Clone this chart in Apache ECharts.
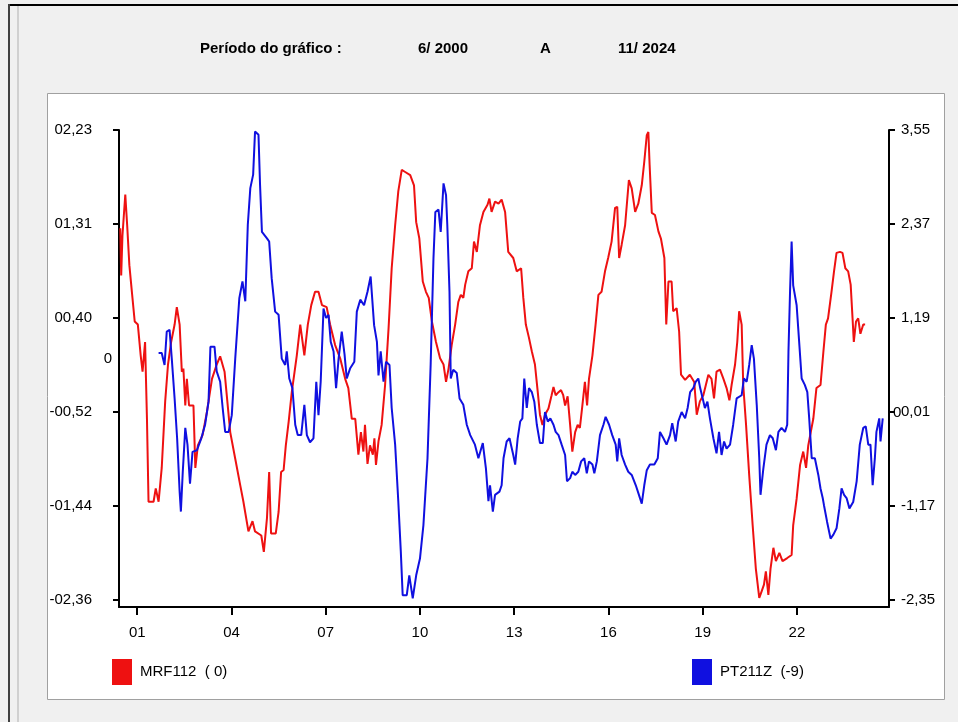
<!DOCTYPE html>
<html>
<head>
<meta charset="utf-8">
<script src="https://cdn.jsdelivr.net/npm/echarts@6/dist/echarts.min.js"></script>
<style>
html,body{margin:0;padding:0;background:#f0f0f0;}
#chart{width:958px;height:722px;}
</style>
</head>
<body>
<div id="chart"></div>
<script>
// ---- data ----
const redName = 'MRF112  ( 0)';
const blueName = 'PT211Z  (-9)';

const redYears = [2000.46,2000.49,2000.53,2000.62,2000.68,2000.75,2000.83,2000.92,2001.02,2001.11,2001.17,2001.25,2001.31,2001.36,2001.52,2001.59,2001.68,2001.78,2001.89,2001.98,2002.08,2002.19,2002.26,2002.35,2002.42,2002.47,2002.53,2002.58,2002.65,2002.79,2002.85,2002.93,2003.08,2003.22,2003.38,2003.53,2003.64,2003.78,2003.96,2004.12,2004.28,2004.38,2004.54,2004.67,2004.75,2004.95,2005.03,2005.13,2005.20,2005.26,2005.41,2005.50,2005.58,2005.66,2005.73,2005.82,2005.92,2006.08,2006.19,2006.32,2006.43,2006.54,2006.66,2006.77,2006.88,2007.03,2007.14,2007.30,2007.46,2007.62,2007.72,2007.83,2007.94,2008.04,2008.12,2008.20,2008.25,2008.33,2008.41,2008.50,2008.55,2008.60,2008.68,2008.78,2008.89,2009.00,2009.10,2009.21,2009.31,2009.42,2009.53,2009.69,2009.81,2009.88,2009.98,2010.09,2010.19,2010.28,2010.38,2010.51,2010.64,2010.75,2010.83,2010.91,2011.01,2011.12,2011.22,2011.30,2011.38,2011.44,2011.54,2011.65,2011.72,2011.81,2011.91,2012.02,2012.15,2012.21,2012.28,2012.39,2012.50,2012.60,2012.71,2012.81,2012.97,2013.08,2013.22,2013.29,2013.37,2013.47,2013.56,2013.66,2013.75,2013.82,2013.90,2013.98,2014.09,2014.19,2014.25,2014.32,2014.41,2014.49,2014.56,2014.62,2014.70,2014.78,2014.85,2014.94,2015.02,2015.09,2015.17,2015.25,2015.32,2015.38,2015.49,2015.59,2015.68,2015.78,2015.89,2015.99,2016.10,2016.21,2016.28,2016.34,2016.42,2016.53,2016.65,2016.74,2016.85,2016.95,2017.06,2017.14,2017.22,2017.27,2017.31,2017.38,2017.48,2017.59,2017.67,2017.78,2017.84,2017.91,2018.01,2018.06,2018.17,2018.25,2018.31,2018.44,2018.59,2018.73,2018.81,2018.91,2019.02,2019.10,2019.18,2019.28,2019.36,2019.44,2019.55,2019.66,2019.76,2019.85,2019.92,2020.03,2020.10,2020.16,2020.24,2020.29,2020.38,2020.48,2020.59,2020.69,2020.80,2020.87,2020.95,2021.01,2021.09,2021.16,2021.25,2021.33,2021.44,2021.54,2021.69,2021.83,2021.88,2021.99,2022.10,2022.20,2022.29,2022.36,2022.52,2022.62,2022.75,2022.84,2022.92,2022.99,2023.10,2023.18,2023.26,2023.37,2023.45,2023.54,2023.63,2023.71,2023.77,2023.81,2023.88,2023.95,2024.02,2024.11,2024.17];
const redValues = [1.27,0.81,1.20,1.60,1.30,0.91,0.65,0.36,0.33,0.03,-0.13,0.16,-0.59,-1.40,-1.40,-1.27,-1.40,-1.07,-0.42,-0.06,0.16,0.33,0.50,0.33,-0.13,-0.10,-0.46,-0.20,-0.46,-0.46,-1.07,-0.85,-0.75,-0.52,-0.20,-0.06,0.02,-0.13,-0.72,-0.98,-1.24,-1.40,-1.69,-1.59,-1.69,-1.73,-1.89,-1.56,-1.11,-1.71,-1.71,-1.50,-1.11,-1.09,-0.85,-0.62,-0.33,0.03,0.33,0.03,0.33,0.52,0.65,0.65,0.52,0.50,0.33,0.13,0.00,-0.20,-0.29,-0.59,-0.59,-0.94,-0.72,-0.91,-0.65,-1.03,-0.85,-0.94,-0.78,-1.04,-0.81,-0.65,-0.26,0.29,0.88,1.30,1.63,1.84,1.82,1.79,1.69,1.33,1.17,0.75,0.65,0.59,0.36,0.16,0.00,-0.06,-0.23,-0.10,0.13,0.33,0.55,0.62,0.59,0.72,0.85,0.88,1.14,1.04,1.30,1.43,1.50,1.56,1.43,1.53,1.51,1.55,1.43,1.04,0.98,0.85,0.88,0.59,0.33,0.20,0.07,-0.06,-0.33,-0.55,-0.65,-0.55,-0.49,-0.36,-0.28,-0.36,-0.33,-0.31,-0.36,-0.46,-0.37,-0.65,-0.91,-0.72,-0.65,-0.68,-0.46,-0.23,-0.46,-0.20,0.03,0.33,0.62,0.65,0.85,0.98,1.14,1.47,1.48,0.98,1.11,1.30,1.74,1.66,1.43,1.51,1.69,1.92,2.18,2.21,1.89,1.42,1.40,1.24,1.17,0.98,0.33,0.75,0.75,0.46,0.49,0.26,-0.16,-0.21,-0.16,-0.23,-0.55,-0.42,-0.36,-0.26,-0.16,-0.20,-0.39,-0.13,-0.11,-0.20,-0.29,-0.41,-0.26,-0.06,0.16,0.46,0.33,-0.26,-0.65,-1.14,-1.63,-2.05,-2.34,-2.28,-2.21,-2.08,-2.31,-2.05,-1.85,-1.98,-1.90,-1.98,-1.95,-1.92,-1.63,-1.37,-1.04,-0.91,-1.07,-0.85,-0.59,-0.29,-0.26,0.06,0.33,0.39,0.65,0.85,1.03,1.04,1.03,0.88,0.85,0.72,0.39,0.16,0.36,0.39,0.24,0.33,0.33];

const blueYears = [2001.68,2001.78,2001.87,2001.94,2002.03,2002.10,2002.19,2002.27,2002.35,2002.39,2002.45,2002.53,2002.60,2002.68,2002.76,2002.90,2003.04,2003.16,2003.27,2003.33,2003.46,2003.53,2003.64,2003.72,2003.80,2003.91,2004.01,2004.12,2004.25,2004.35,2004.44,2004.52,2004.60,2004.69,2004.75,2004.86,2004.91,2004.97,2005.13,2005.20,2005.28,2005.39,2005.50,2005.60,2005.71,2005.76,2005.84,2005.94,2006.03,2006.11,2006.22,2006.32,2006.40,2006.50,2006.61,2006.70,2006.77,2006.84,2006.93,2007.01,2007.09,2007.16,2007.25,2007.33,2007.41,2007.51,2007.60,2007.67,2007.78,2007.91,2007.99,2008.10,2008.22,2008.33,2008.43,2008.54,2008.63,2008.68,2008.75,2008.84,2008.92,2009.03,2009.10,2009.21,2009.31,2009.39,2009.45,2009.58,2009.66,2009.77,2009.88,2010.00,2010.11,2010.24,2010.34,2010.43,2010.49,2010.59,2010.66,2010.75,2010.83,2010.87,2010.94,2010.98,2011.06,2011.17,2011.26,2011.38,2011.49,2011.60,2011.75,2011.86,2012.00,2012.10,2012.18,2012.23,2012.32,2012.39,2012.53,2012.60,2012.66,2012.76,2012.85,2012.97,2013.03,2013.11,2013.19,2013.26,2013.32,2013.40,2013.47,2013.56,2013.64,2013.72,2013.82,2013.91,2013.98,2014.07,2014.15,2014.25,2014.32,2014.41,2014.51,2014.62,2014.68,2014.78,2014.85,2014.94,2015.04,2015.13,2015.23,2015.31,2015.38,2015.49,2015.55,2015.63,2015.73,2015.84,2015.91,2016.02,2016.12,2016.23,2016.28,2016.34,2016.42,2016.53,2016.63,2016.74,2016.87,2016.97,2017.06,2017.14,2017.22,2017.32,2017.46,2017.57,2017.64,2017.75,2017.85,2017.96,2018.03,2018.14,2018.22,2018.33,2018.44,2018.52,2018.60,2018.70,2018.78,2018.86,2018.92,2019.00,2019.07,2019.15,2019.23,2019.34,2019.44,2019.52,2019.60,2019.68,2019.76,2019.87,2019.97,2020.08,2020.24,2020.31,2020.40,2020.48,2020.56,2020.63,2020.72,2020.80,2020.84,2020.93,2021.03,2021.14,2021.23,2021.33,2021.41,2021.51,2021.62,2021.69,2021.73,2021.78,2021.83,2021.88,2021.99,2022.07,2022.15,2022.25,2022.33,2022.39,2022.47,2022.57,2022.68,2022.75,2022.82,2022.86,2022.96,2023.07,2023.16,2023.26,2023.35,2023.42,2023.50,2023.58,2023.67,2023.79,2023.90,2024.00,2024.11,2024.19,2024.27,2024.34,2024.41,2024.48,2024.53,2024.62,2024.66,2024.73];
const blueValues = [0.75,0.75,0.60,1.02,1.04,0.68,0.18,-0.32,-0.99,-1.24,-0.74,-0.19,-0.40,-0.89,-0.49,-0.47,-0.32,-0.15,0.14,0.83,0.83,0.52,0.39,0.06,-0.24,-0.24,-0.03,0.68,1.44,1.65,1.40,2.36,2.82,2.99,3.53,3.49,2.86,2.27,2.19,2.15,1.69,1.27,1.23,0.68,0.60,0.77,0.43,0.31,-0.15,-0.28,-0.28,0.10,-0.28,-0.37,-0.32,0.39,-0.03,0.39,1.31,1.19,1.23,0.89,0.77,0.31,0.68,1.02,0.73,0.43,0.56,0.64,1.27,1.42,1.35,1.52,1.71,1.10,0.89,0.47,0.77,0.39,0.64,0.60,0.06,-0.40,-1.11,-1.74,-2.29,-2.29,-2.04,-2.33,-2.04,-1.83,-1.41,-0.57,0.60,1.94,2.52,2.55,2.27,2.88,2.73,2.36,1.52,0.43,0.54,0.50,0.18,0.10,-0.15,-0.28,-0.40,-0.57,-0.38,-0.70,-1.11,-0.91,-1.24,-1.03,-0.99,-0.91,-0.57,-0.36,-0.32,-0.53,-0.65,-0.32,-0.11,-0.07,0.43,0.06,0.31,0.26,0.14,-0.15,-0.38,-0.38,0.01,-0.11,-0.07,-0.15,-0.24,-0.28,-0.40,-0.53,-0.86,-0.82,-0.74,-0.78,-0.74,-0.61,-0.57,-0.76,-0.61,-0.65,-0.76,-0.61,-0.28,-0.15,-0.05,-0.15,-0.28,-0.40,-0.61,-0.32,-0.53,-0.65,-0.74,-0.78,-0.91,-1.03,-1.14,-0.91,-0.72,-0.65,-0.65,-0.57,-0.24,-0.32,-0.40,-0.28,-0.13,-0.36,-0.11,0.01,-0.07,0.06,0.26,0.31,0.39,0.43,0.31,0.18,0.06,0.14,-0.07,-0.32,-0.51,-0.24,-0.53,-0.36,-0.45,-0.40,-0.15,0.18,0.22,0.43,0.39,0.60,0.85,0.68,0.10,-0.57,-1.03,-0.70,-0.40,-0.28,-0.32,-0.47,-0.24,-0.19,-0.24,-0.15,0.77,1.52,2.15,1.60,1.35,0.89,0.43,0.35,0.26,-0.07,-0.57,-0.57,-0.78,-0.95,-1.07,-1.16,-1.37,-1.58,-1.53,-1.45,-1.20,-0.95,-1.03,-1.07,-1.20,-1.12,-0.86,-0.40,-0.19,-0.17,-0.40,-0.40,-0.91,-0.57,-0.24,-0.07,-0.36,-0.07];

const xTickValues = [2001,2004,2007,2010,2013,2016,2019,2022];
const xTickLabels = ['01','04','07','10','13','16','19','22'];
const leftTickValues = [-2.36,-1.442,-0.524,0.394,1.312,2.23];
const leftTickLabels = ['-02,36','-01,44','-00,52','00,40','01,31','02,23'];
const rightTickValues = [-2.35,-1.17,0.01,1.19,2.37,3.55];
const rightTickLabels = ['-2,35','-1,17','0,01','1,19','2,37','3,55'];
const titleParts = ['Período do gráfico :','6/ 2000','A','11/ 2024'];

// ---- chart ----
const FONT = "'Liberation Sans Narrow','Arial Narrow','Liberation Sans',sans-serif";
const chart = echarts.init(document.getElementById('chart'), null, {renderer:'canvas'});

const zip = (xs, ys) => xs.map((x, i) => [x, ys[i]]);
const labelFor = (vals, labs) => v => {
  for (let i = 0; i < vals.length; i++) if (Math.abs(vals[i] - v) < 1e-6) return labs[i];
  return '';
};

const leftMin = -2.428, leftMax = 2.23;
const rightMin = -2.438, rightMax = 3.55;

const option = {
  backgroundColor: '#f0f0f0',
  animation: false,
  graphic: [
    {type:'rect', z:-10, shape:{x:47.5, y:93.5, width:897, height:606}, style:{fill:'#ffffff', stroke:'#a0a0a0', lineWidth:1}},
    {type:'line', z:-10, shape:{x1:9, y1:5, x2:958, y2:5}, style:{stroke:'#000', lineWidth:2}},
    {type:'line', z:-10, shape:{x1:9, y1:4, x2:9, y2:722}, style:{stroke:'#404040', lineWidth:2}},
    {type:'line', z:-10, shape:{x1:18, y1:6, x2:18, y2:722}, style:{stroke:'#b0b0b0', lineWidth:1}},
    {type:'text', left:200, top:41, style:{text:titleParts[0], font:"bold 15px " + FONT, fill:'#000'}},
    {type:'text', left:418, top:41, style:{text:titleParts[1], font:"bold 15px " + FONT, fill:'#000'}},
    {type:'text', left:540, top:41, style:{text:titleParts[2], font:"bold 15px " + FONT, fill:'#000'}},
    {type:'text', left:618, top:41, style:{text:titleParts[3], font:"bold 15px " + FONT, fill:'#000'}}
  ],
  legend: [
    {data:[redName], left:112, top:659, padding:0, icon:'rect', itemWidth:20, itemHeight:26, selectedMode:false,
     textStyle:{fontFamily:FONT, fontSize:15, color:'#000', padding:[0,0,0,3]}},
    {data:[blueName], left:692, top:659, padding:0, icon:'rect', itemWidth:20, itemHeight:26, selectedMode:false,
     textStyle:{fontFamily:FONT, fontSize:15, color:'#000', padding:[0,0,0,3]}}
  ],
  grid: {left:119, right:69, top:130, bottom:115, containLabel:false},
  xAxis: {
    type:'value', min:2000.42, max:2024.93,
    axisLine:{show:true, onZero:false, lineStyle:{color:'#000', width:2}},
    axisTick:{show:true, length:8, customValues:xTickValues, lineStyle:{color:'#000', width:2}},
    axisLabel:{customValues:xTickValues, formatter:labelFor(xTickValues, xTickLabels), margin:18,
      fontFamily:FONT, fontSize:15, color:'#000'},
    splitLine:{show:false}
  },
  yAxis: [
    {type:'value', position:'left', min:leftMin, max:leftMax,
     axisLine:{show:true, onZero:false, lineStyle:{color:'#000', width:2}},
     axisTick:{show:true, length:6, customValues:leftTickValues, lineStyle:{color:'#000', width:2}},
     axisLabel:{customValues:leftTickValues, formatter:labelFor(leftTickValues, leftTickLabels), margin:27,
       fontFamily:FONT, fontSize:15, color:'#000'},
     splitLine:{show:false}},
    {type:'value', position:'right', min:rightMin, max:rightMax,
     axisLine:{show:true, onZero:false, lineStyle:{color:'#000', width:2}},
     axisTick:{show:true, length:6, customValues:rightTickValues, lineStyle:{color:'#000', width:2}},
     axisLabel:{customValues:rightTickValues, formatter:labelFor(rightTickValues, rightTickLabels), margin:12,
       fontFamily:FONT, fontSize:15, color:'#000'},
     splitLine:{show:false}},
    {type:'value', position:'left', min:leftMin, max:leftMax,
     axisLine:{show:false}, axisTick:{show:false}, splitLine:{show:false},
     axisLabel:{customValues:[0], formatter:() => '0', margin:7, fontFamily:FONT, fontSize:15, color:'#000'}},
    {type:'value', position:'right', min:rightMin, max:rightMax,
     axisLine:{show:false}, axisTick:{show:false}, splitLine:{show:false},
     axisLabel:{customValues:[0], formatter:() => '0', margin:4, fontFamily:FONT, fontSize:15, color:'#000'}}
  ],
  series: [
    {name:redName, type:'line', yAxisIndex:0, data:zip(redYears, redValues), showSymbol:false, symbol:'none',
     lineStyle:{color:'#ee1111', width:2}, itemStyle:{color:'#ee1111'}, z:3},
    {name:blueName, type:'line', yAxisIndex:1, data:zip(blueYears, blueValues), showSymbol:false, symbol:'none',
     lineStyle:{color:'#1010e0', width:2}, itemStyle:{color:'#1010e0'}, z:4}
  ]
};
chart.setOption(option);
</script>
</body>
</html>
